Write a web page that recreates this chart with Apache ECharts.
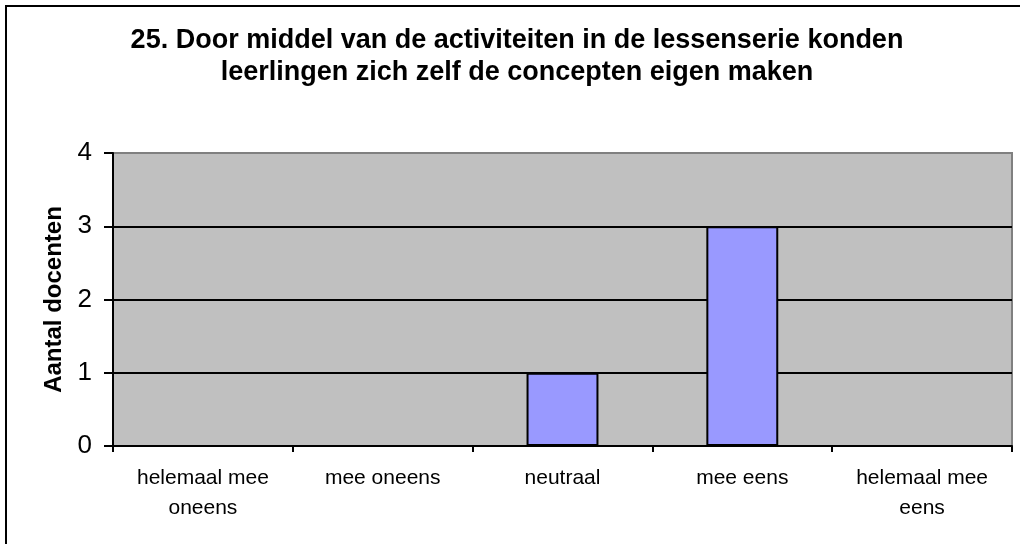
<!DOCTYPE html>
<html>
<head>
<meta charset="utf-8">
<script src="https://cdn.jsdelivr.net/npm/echarts@6/dist/echarts.min.js"></script>
<style>
  html, body { margin: 0; padding: 0; background: #ffffff; }
  #chart { width: 1020px; height: 544px; }
</style>
</head>
<body>
<div id="chart"></div>
<script>
const titleLines = [
  '25. Door middel van de activiteiten in de lessenserie konden',
  'leerlingen zich zelf de concepten eigen maken'
];
const categories = ['helemaal mee\noneens', 'mee oneens', 'neutraal', 'mee eens', 'helemaal mee\neens'];
const values = [0, 0, 1, 3, 0];
const yAxisName = 'Aantal docenten';
const yMin = 0, yMax = 4, yInterval = 1;

const FONT = '"Liberation Sans", Arial, sans-serif';
const chart = echarts.init(document.getElementById('chart'), null, { renderer: 'canvas' });
chart.setOption({
  backgroundColor: '#ffffff',
  animation: false,
  title: {
    text: titleLines.join('\n'),
    left: 517,
    textAlign: 'center',
    top: 25,
    padding: 0,
    textStyle: {
      fontFamily: FONT,
      fontSize: 27,
      fontWeight: 'bold',
      color: '#000000',
      lineHeight: 32
    }
  },
  graphic: [{
    type: 'rect',
    shape: { x: 6, y: 6, width: 1100, height: 1000 },
    style: { fill: 'none', stroke: '#000000', lineWidth: 2 },
    silent: true,
    z: 0
  }],
  grid: {
    left: 113, right: 8, top: 153, bottom: 98,
    show: true,
    backgroundColor: '#c0c0c0',
    borderColor: '#808080',
    borderWidth: 2
  },
  xAxis: {
    type: 'category',
    data: categories,
    axisLine: { show: true, lineStyle: { color: '#000000', width: 2 } },
    axisTick: { show: true, alignWithLabel: false, length: 6, inside: false, lineStyle: { color: '#000000', width: 2 } },
    axisLabel: {
      fontFamily: FONT, fontSize: 21, color: '#000000', lineHeight: 30,
      margin: 17, interval: 0, align: 'center'
    },
    splitLine: { show: false }
  },
  yAxis: {
    type: 'value',
    min: yMin, max: yMax, interval: yInterval,
    name: yAxisName,
    nameLocation: 'middle',
    nameRotate: 90,
    nameGap: 45,
    nameTextStyle: { fontFamily: FONT, fontSize: 24, fontWeight: 'bold', color: '#000000' },
    axisLine: { show: true, lineStyle: { color: '#000000', width: 2 } },
    axisTick: { show: true, length: 9, inside: false, lineStyle: { color: '#000000', width: 2 } },
    axisLabel: { fontFamily: FONT, fontSize: 26, color: '#000000', margin: 21 },
    splitLine: { show: true, lineStyle: { color: ['#000000', '#000000', '#000000', '#000000', '#808080'], width: 2 } }
  },
  series: [{
    type: 'bar',
    data: values,
    barWidth: '40%',
    itemStyle: { color: '#9999ff', borderColor: '#000000', borderWidth: 2 }
  }]
});
</script>
</body>
</html>
